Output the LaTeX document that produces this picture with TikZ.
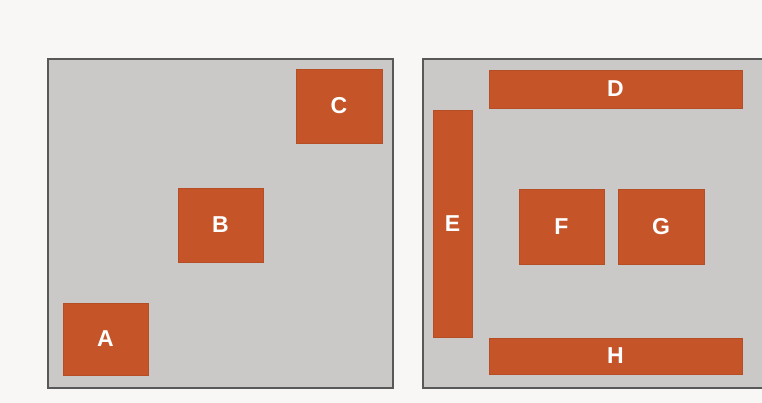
\documentclass[tikz,border=0pt]{standalone}
\usepackage{fontspec}
\newfontfamily\labfont{Liberation Sans}
\definecolor{boxfill}{RGB}{197,84,40}
\definecolor{panelfill}{RGB}{202,201,200}
\definecolor{panelline}{RGB}{88,88,88}
\definecolor{bgcol}{RGB}{248,247,245}
\tikzset{
  panel/.style={draw=panelline, line width=2pt, fill=panelfill, rectangle, inner sep=0pt, outer sep=0pt},
  blk/.style={fill=boxfill, draw=boxfill!92!black, line width=0.5pt, rectangle, inner sep=0pt, outer sep=0pt,
    text=white, font=\labfont\bfseries\fontsize{23}{23}\selectfont},
}
\begin{document}
\begin{tikzpicture}[x=1pt,y=-1pt]
\useasboundingbox (0,0) rectangle (762,403);
\fill[bgcol] (0,0) rectangle (762,403);
% panels
\node[panel, minimum width=345pt, minimum height=329pt] (left) at (220.5,223.5) {};
\node[panel, minimum width=350pt, minimum height=329pt] (right) at (598,223.5) {};
% left panel blocks
\node[blk, minimum width=85pt, minimum height=72pt] (A) at (105.5,339) {A};
\node[blk, minimum width=85pt, minimum height=74pt] (B) at (220.5,225) {B};
\node[blk, minimum width=86pt, minimum height=74pt] (C) at (339,106) {C};
% right panel blocks
\node[blk, minimum width=253pt, minimum height=38pt] (D) at (615.5,89) {D};
\node[blk, minimum width=39pt, minimum height=227pt] (E) at (452.5,223.5) {E};
\node[blk, minimum width=85pt, minimum height=75pt] (F) at (561.5,226.5) {F};
\node[blk, minimum width=86pt, minimum height=75pt] (G) at (661,226.5) {G};
\node[blk, minimum width=253pt, minimum height=36pt] (H) at (615.5,356) {H};
\end{tikzpicture}
\end{document}
